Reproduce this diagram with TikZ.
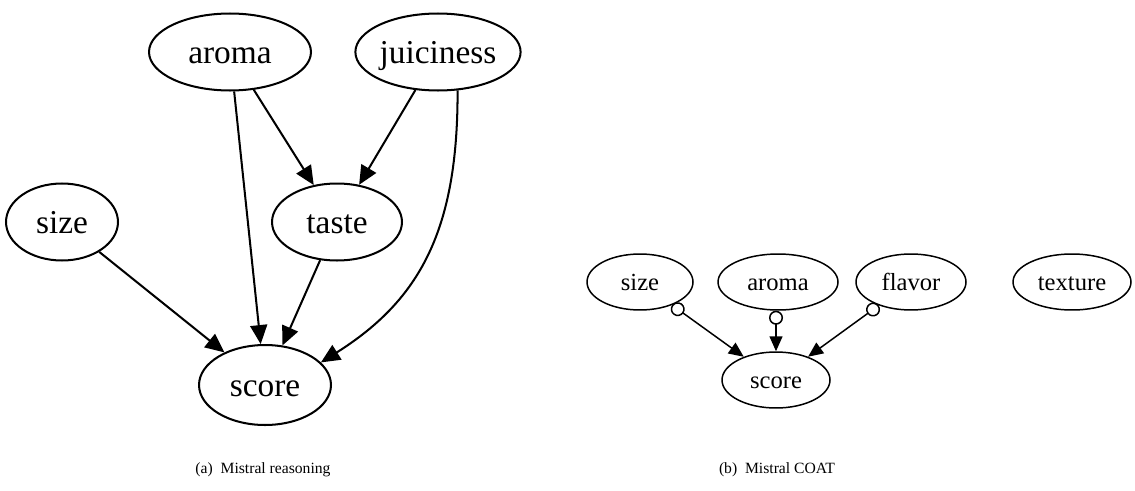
\documentclass[tikz,border=0pt]{standalone}
\usepackage{fontspec}
\setmainfont{Liberation Serif}
\usetikzlibrary{shapes.geometric,arrows.meta}
\begin{document}
\begin{tikzpicture}[x=0.02cm,y=-0.02cm,
  bignode/.style={draw,ellipse,line width=1.15pt,inner sep=0pt,text height=17pt,text depth=4pt,font=\fontsize{19}{20}\selectfont},
  smallnode/.style={draw,ellipse,line width=0.85pt,inner sep=0pt,text height=12.5pt,text depth=3pt,font=\fontsize{14}{15}\selectfont},
  bigedge/.style={line width=1.15pt,-{Triangle[length=0.38cm,width=0.34cm]}},
  coatedge/.style={line width=0.85pt,{Circle[open,length=0.28cm,width=0.28cm]}-{Triangle[length=0.3cm,width=0.26cm]}},
  caption/.style={font=\fontsize{8.9}{10}\selectfont}]
\useasboundingbox (0,0) rectangle (1135,490);
% (a)
\node[bignode,minimum width=3.24cm,minimum height=1.54cm] (aroma) at (230,52) {aroma};
\node[bignode,minimum width=3.24cm,minimum height=1.54cm] (juic) at (438,52) {juiciness};
\node[bignode,minimum width=2.24cm,minimum height=1.54cm] (sizeA) at (62,222) {size};
\node[bignode,minimum width=2.6cm,minimum height=1.54cm] (taste) at (337,222) {taste};
\node[bignode,minimum width=2.64cm,minimum height=1.6cm] (scoreA) at (265,385) {score};
\draw[bigedge] (aroma) -- (scoreA);
\draw[bigedge] (aroma) -- (taste);
\draw[bigedge] (juic) -- (taste);
\draw[bigedge] (sizeA) -- (scoreA);
\draw[bigedge] (taste) -- (scoreA);
\draw[bigedge] (juic.-63) .. controls (458,230) and (420,300) .. (scoreA.22);
\node[caption] (capA) at (263,470) {(a)\enspace Mistral reasoning};
% (b)
\node[smallnode,minimum width=2.12cm,minimum height=1.12cm] (sizeB) at (640,282) {size};
\node[smallnode,minimum width=2.4cm,minimum height=1.12cm] (aromaB) at (778,282) {aroma};
\node[smallnode,minimum width=2.2cm,minimum height=1.12cm] (flavor) at (911,282) {flavor};
\node[smallnode,minimum width=2.36cm,minimum height=1.12cm] (texture) at (1072,282) {texture};
\node[smallnode,minimum width=2.16cm,minimum height=1.12cm] (scoreB) at (776,380) {score};
\draw[coatedge] (sizeB) -- (scoreB);
\draw[coatedge] (aromaB.south -| scoreB.north) -- (scoreB.north);
\draw[coatedge] (flavor) -- (scoreB);
\node[caption] (capB) at (777,470) {(b)\enspace Mistral COAT};
\end{tikzpicture}
\end{document}
